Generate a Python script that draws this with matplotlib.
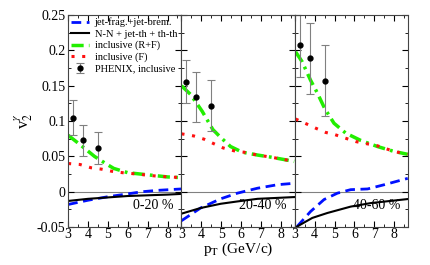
import matplotlib
matplotlib.use("Agg")
import matplotlib.pyplot as plt
import matplotlib.ticker as ticker

plt.rcParams["font.family"] = ["Liberation Serif", "DejaVu Serif"]
plt.rcParams["mathtext.fontset"] = "stix"

centralidades = ["0-20 %", "20-40 %", "40-60 %"]

# jet-frag.+jet-brem. (azul tracejado)
pt_jet = [[3.0, 4.0, 5.0, 6.0, 6.7, 7.5, 8.7],
          [3.0, 3.96, 4.97, 5.81, 6.82, 7.83, 8.67],
          [3.12, 3.79, 4.47, 5.14, 5.81, 6.66, 7.5, 8.68]]
v2_jet = [[-0.018, -0.012, -0.007, -0.003, 0.0, 0.002, 0.004],
          [-0.041, -0.023, -0.010, -0.002, 0.005, 0.010, 0.012],
          [-0.049, -0.028, -0.011, -0.002, 0.003, 0.004, 0.010, 0.019]]

# N-N + jet-th + th-th (preto)
pt_nn = [[3.0, 4.0, 5.0, 6.0, 7.0, 8.0, 8.7],
         [3.0, 3.96, 4.97, 5.81, 6.82, 8.67],
         [3.0, 3.88, 4.64, 5.81, 6.82, 8.68]]
v2_nn = [[-0.013, -0.010, -0.008, -0.006, -0.005, -0.004, -0.003],
         [-0.031, -0.023, -0.017, -0.0137, -0.010, -0.0075],
         [-0.051, -0.037, -0.030, -0.021, -0.016, -0.0103]]

# inclusive (R+F) (verde)
pt_rf = [[3.0, 3.5, 4.33, 5.0, 5.3, 6.0, 7.0, 8.0, 8.7],
         [3.0, 3.45, 4.04, 4.58, 4.97, 5.47, 6.06, 6.82, 7.5, 8.67],
         [3.04, 3.37, 3.79, 4.13, 4.5, 4.97, 5.56, 6.32, 7.16, 8.0, 8.68]]
v2_rf = [[0.080, 0.069, 0.050, 0.038, 0.033, 0.027, 0.024, 0.021, 0.020],
         [0.150, 0.138, 0.114, 0.088, 0.077, 0.064, 0.056, 0.052, 0.049, 0.043],
         [0.198, 0.184, 0.158, 0.140, 0.118, 0.097, 0.083, 0.0726, 0.064, 0.057, 0.053]]

# inclusive (F) (vermelho pontilhado)
pt_f = [[3.0, 3.6, 4.15, 4.68, 5.2, 5.74, 6.5, 7.5, 8.7],
        [3.0, 3.62, 4.13, 4.63, 5.1, 5.64, 6.14, 6.82, 7.5, 8.67],
        [3.04, 3.59, 4.05, 4.55, 5.0, 5.53, 6.07, 7.16, 8.0, 8.68]]
v2_f = [[0.040, 0.0386, 0.034, 0.032, 0.029, 0.027, 0.025, 0.022, 0.020],
        [0.082, 0.079, 0.0745, 0.068, 0.062, 0.058, 0.056, 0.052, 0.049, 0.043],
        [0.103, 0.096, 0.090, 0.084, 0.081, 0.076, 0.071, 0.065, 0.057, 0.053]]

# PHENIX, inclusive
pt_phenix = [3.25, 3.75, 4.5]
v2_phenix = [[0.105, 0.073, 0.062],
             [0.156, 0.134, 0.122],
             [0.208, 0.189, 0.157]]
erro_phenix = [[0.025, 0.022, 0.023],
               [0.030, 0.035, 0.036],
               [0.046, 0.050, 0.050]]

fig, eixos = plt.subplots(1, 3, sharey=True, figsize=(4.31, 2.65), dpi=100)
fig.subplots_adjust(left=0.158, right=0.947, top=0.943, bottom=0.143, wspace=0)

for i, eixo in enumerate(eixos):
    eixo.axhline(0, color="gray", lw=0.8, zorder=1)
    eixo.plot(pt_jet[i], v2_jet[i], color="#0010ff", lw=2, dashes=(3.5, 2),
              label="jet-frag.+jet-brem.")
    eixo.plot(pt_nn[i], v2_nn[i], color="black", lw=1.5,
              label="N-N + jet-th + th-th")
    eixo.plot(pt_rf[i], v2_rf[i], color="#22ee00", lw=2.5, dashes=(3.5, 1.5, 0.8, 1.5),
              label="inclusive (R+F)")
    eixo.plot(pt_f[i], v2_f[i], color="#ff1010", lw=2.2, dashes=(1, 2.5),
              label="inclusive (F)")
    eixo.errorbar(pt_phenix, v2_phenix[i], yerr=erro_phenix[i], fmt="o",
                  color="black", ms=3.5, ecolor="gray", elinewidth=0.8,
                  capsize=3, capthick=0.8, label="PHENIX, inclusive")
    eixo.text(0.93, 0.07, centralidades[i], transform=eixo.transAxes,
              ha="right", va="bottom", fontsize=10)

    eixo.set_xlim(3, 8.7)
    eixo.set_ylim(-0.05, 0.25)
    eixo.set_xticks([3, 4, 5, 6, 7, 8])
    eixo.xaxis.set_minor_locator(ticker.MultipleLocator(0.5))
    eixo.yaxis.set_major_locator(ticker.MultipleLocator(0.05))
    eixo.yaxis.set_minor_locator(ticker.MultipleLocator(0.025))
    eixo.yaxis.set_major_formatter(ticker.FormatStrFormatter("%g"))
    eixo.tick_params(which="both", direction="in", top=True, right=True,
                     labelsize=10, pad=1)
    eixo.tick_params(which="major", length=4)
    eixo.tick_params(which="minor", length=2)
    for lado in eixo.spines.values():
        lado.set_color("#444444")
        lado.set_linewidth(0.8)

eixos[0].tick_params(axis="y", pad=2)
eixos[0].legend(loc="upper left", frameon=False, fontsize=7.5, handlelength=1.8,
                borderaxespad=0.0, labelspacing=0.2, handletextpad=0.5,
                borderpad=0.25)
eixos[0].set_ylabel(r"v$_2^{\gamma}$", fontsize=12, labelpad=1)
fig.text(0.552, 0.025, r"p$_\mathrm{T}$ (GeV/c)", ha="center", va="bottom", fontsize=11)

plt.savefig("out.png", dpi=100)
